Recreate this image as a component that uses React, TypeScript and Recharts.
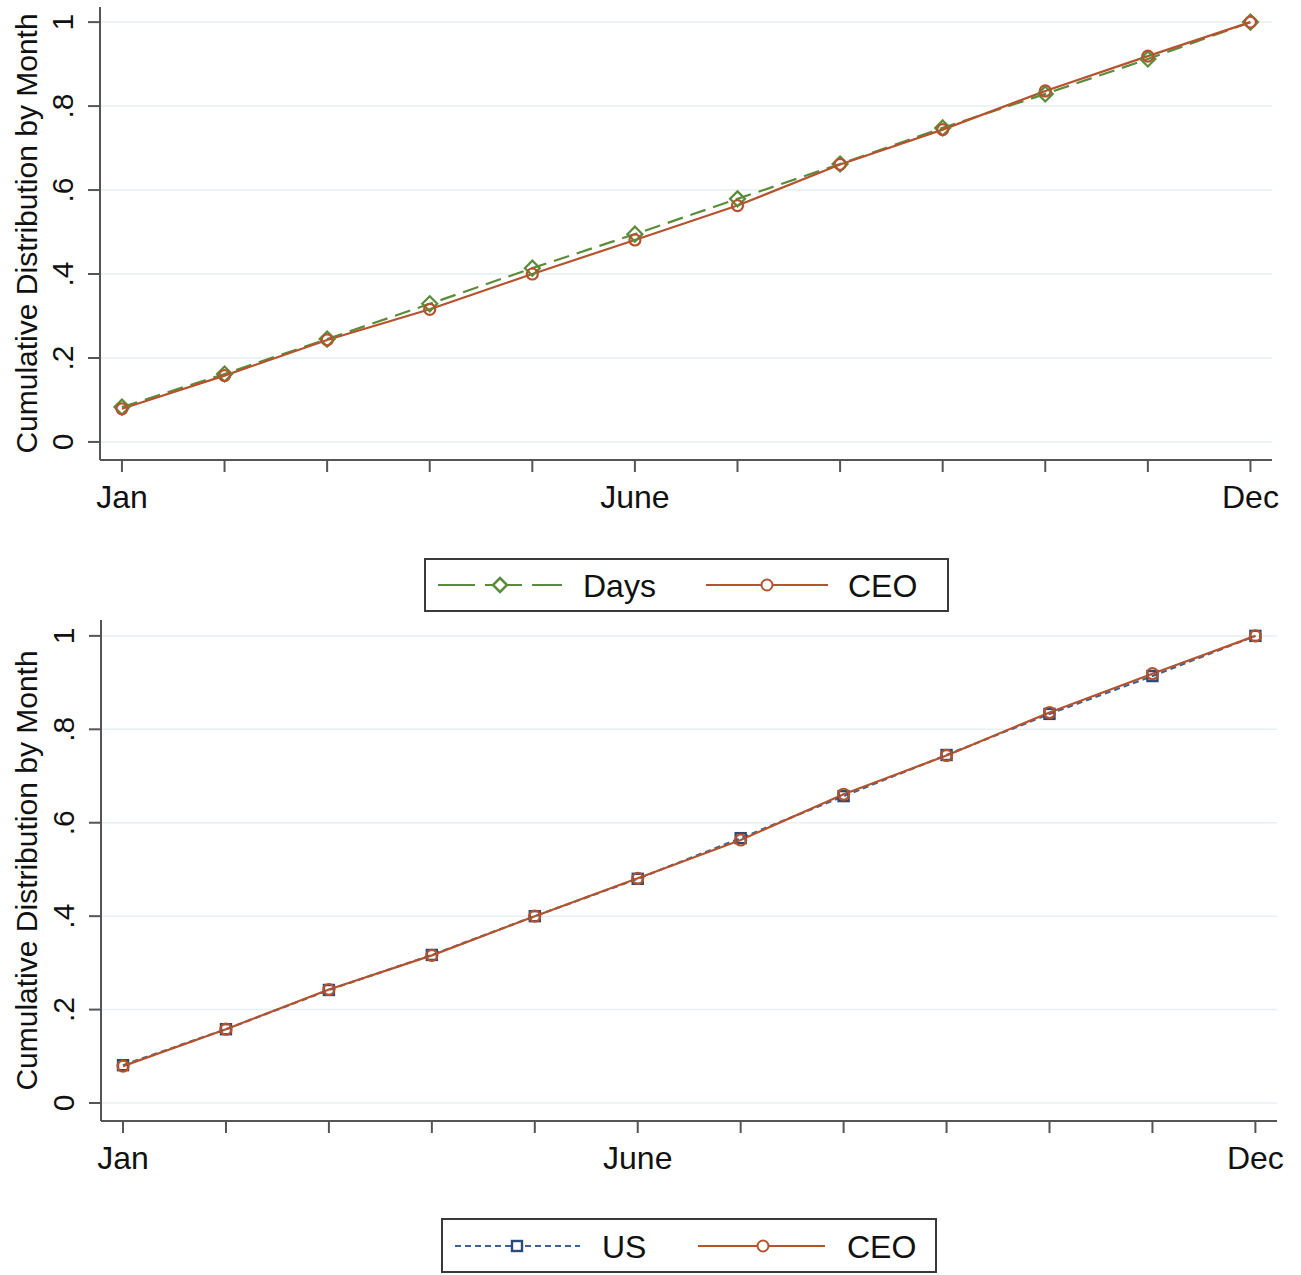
import React from 'react';
import { LineChart, Line, XAxis, YAxis, ReferenceLine, Legend } from 'recharts';

// month positions and the labels shown under the x axis
const monthIdx = [0, 1, 2, 3, 4, 5, 6, 7, 8, 9, 10, 11];
const monthLabels = ['Jan', '', '', '', '', 'June', '', '', '', '', '', 'Dec'];

// cumulative shares
const daysShare = [0.083, 0.162, 0.245, 0.329, 0.414, 0.495, 0.579, 0.662, 0.748, 0.829, 0.912, 1.0];
const ceoShare = [0.079, 0.158, 0.243, 0.316, 0.4, 0.481, 0.563, 0.661, 0.744, 0.836, 0.919, 1.0];
const usShare = [0.081, 0.158, 0.242, 0.317, 0.4, 0.48, 0.567, 0.657, 0.745, 0.833, 0.914, 1.0];

const yTicks = [0, 0.2, 0.4, 0.6, 0.8, 1];
const yTickLabels = ['0', '.2', '.4', '.6', '.8', '1'];

const FONT = '"Liberation Sans", Arial, sans-serif';
const AXIS = '#555';
const GREEN = '#5a8c3a';
const ORANGE = '#b5532e';
const BLUE = '#3d6491';
const GRID = '#e6eff1';

const topData = monthIdx.map((m, i) => ({ m, days: daysShare[i], ceo: ceoShare[i] }));
const bottomData = monthIdx.map((m, i) => ({ m, us: usShare[i], ceo: ceoShare[i] }));

const XTick = (props: any) => {
  const { x, y, payload } = props;
  const label = monthLabels[payload.value] || '';
  return (
    <text x={x} y={y} dy={36} textAnchor="middle" fontSize={32} fill="#111" fontFamily={FONT}>
      {label}
    </text>
  );
};

const YTick = (props: any) => {
  const { x, y, payload } = props;
  const i = yTicks.findIndex((t) => Math.abs(t - payload.value) < 1e-6);
  const bx = x - 15;
  return (
    <text x={bx} y={y} textAnchor="middle" transform={`rotate(-90, ${bx}, ${y})`} fontSize={30} fill="#111" fontFamily={FONT}>
      {i >= 0 ? yTickLabels[i] : ''}
    </text>
  );
};

const yTitle = (props: any) => {
  const vb = props.viewBox;
  const cx = vb.x + 37;
  const cy = vb.y + vb.height / 2;
  return (
    <text x={cx} y={cy} textAnchor="middle" transform={`rotate(-90, ${cx}, ${cy})`} fontSize={30} fill="#111" fontFamily={FONT}>
      Cumulative Distribution by Month
    </text>
  );
};

const Diamond = (props: any) => {
  const { cx, cy, stroke } = props;
  if (cx == null || cy == null) return <g />;
  const r = 7.5;
  return <path d={`M${cx},${cy - r}L${cx + r},${cy}L${cx},${cy + r}L${cx - r},${cy}Z`} fill="none" stroke={stroke} strokeWidth={2.2} />;
};

const Circle = (props: any) => {
  const { cx, cy, stroke } = props;
  if (cx == null || cy == null) return <g />;
  return <circle cx={cx} cy={cy} r={5.5} fill="none" stroke={stroke} strokeWidth={2.2} />;
};

const Square = (props: any) => {
  const { cx, cy, stroke } = props;
  if (cx == null || cy == null) return <g />;
  return <rect x={cx - 5} y={cy - 5} width={10} height={10} fill="none" stroke={stroke} strokeWidth={2.4} />;
};

const TopLegend = () => (
  <div style={{ width: 525, height: 54, boxSizing: 'border-box', border: '2px solid #3a3a3a', background: '#fff' }}>
    <svg width={521} height={50}>
      <line x1={12} y1={25} x2={136} y2={25} stroke={GREEN} strokeWidth={2} strokeDasharray="37 10" />
      <path d="M74,18L81,25L74,32L67,25Z" fill="#fff" stroke={GREEN} strokeWidth={2.5} />
      <text x={157} y={37} fontSize={32} fill="#111" fontFamily={FONT}>Days</text>
      <line x1={280} y1={25} x2={402} y2={25} stroke={ORANGE} strokeWidth={2} />
      <circle cx={341} cy={25} r={5.5} fill="#fff" stroke={ORANGE} strokeWidth={2} />
      <text x={422} y={37} fontSize={32} fill="#111" fontFamily={FONT}>CEO</text>
    </svg>
  </div>
);

const BottomLegend = () => (
  <div style={{ width: 496, height: 55, boxSizing: 'border-box', border: '2px solid #3a3a3a', background: '#fff' }}>
    <svg width={492} height={51}>
      <line x1={12} y1={26} x2={137} y2={26} stroke={BLUE} strokeWidth={2} strokeDasharray="6 4" />
      <rect x={69} y={21} width={10} height={10} fill="#fff" stroke="#2a4a7a" strokeWidth={2.4} />
      <text x={159} y={38} fontSize={32} fill="#111" fontFamily={FONT}>US</text>
      <line x1={255} y1={26} x2={382} y2={26} stroke={ORANGE} strokeWidth={2} />
      <circle cx={320} cy={26} r={5.5} fill="#fff" stroke={ORANGE} strokeWidth={2} />
      <text x={404} y={38} fontSize={32} fill="#111" fontFamily={FONT}>CEO</text>
    </svg>
  </div>
);

const gridLines = yTicks.map((t) => <ReferenceLine key={t} y={t} stroke={GRID} strokeWidth={1.5} />);

export default function App() {
  return (
    <div style={{ position: 'absolute', left: 0, top: 0, width: 1301, height: 1275, background: '#fff' }}>
      <div style={{ position: 'absolute', left: 0, top: 0 }}>
        <LineChart width={1301} height={612} data={topData} margin={{ top: 7, right: 29, left: 0, bottom: 92 }}>
          {gridLines}
          <XAxis
            dataKey="m"
            type="number"
            domain={[-0.214, 11.21]}
            allowDataOverflow
            ticks={monthIdx}
            tick={<XTick />}
            tickSize={12}
            tickMargin={0}
            height={60}
            stroke={AXIS}
            strokeWidth={2}
          />
          <YAxis
            type="number"
            domain={[-0.043, 1.036]}
            allowDataOverflow
            ticks={yTicks}
            tick={<YTick />}
            tickSize={12}
            tickMargin={0}
            width={100}
            stroke={AXIS}
            strokeWidth={2}
            label={yTitle}
          />
          <Legend
            layout="horizontal"
            verticalAlign="middle"
            align="center"
            content={() => <TopLegend />}
            wrapperStyle={{ top: 558, left: 424, width: 525, height: 54 }}
          />
          <Line dataKey="days" stroke={GREEN} strokeWidth={2.2} strokeDasharray="16 8" dot={<Diamond />} isAnimationActive={false} />
          <Line dataKey="ceo" stroke={ORANGE} strokeWidth={2.2} dot={<Circle />} isAnimationActive={false} />
        </LineChart>
      </div>
      <div style={{ position: 'absolute', left: 0, top: 612 }}>
        <LineChart width={1301} height={663} data={bottomData} margin={{ top: 8, right: 24, left: 0, bottom: 94 }}>
          {gridLines}
          <XAxis
            dataKey="m"
            type="number"
            domain={[-0.214, 11.21]}
            allowDataOverflow
            ticks={monthIdx}
            tick={<XTick />}
            tickSize={12}
            tickMargin={0}
            height={60}
            stroke={AXIS}
            strokeWidth={2}
          />
          <YAxis
            type="number"
            domain={[-0.0385, 1.034]}
            allowDataOverflow
            ticks={yTicks}
            tick={<YTick />}
            tickSize={12}
            tickMargin={0}
            width={101}
            stroke={AXIS}
            strokeWidth={2}
            label={yTitle}
          />
          <Legend
            layout="horizontal"
            verticalAlign="middle"
            align="center"
            content={() => <BottomLegend />}
            wrapperStyle={{ top: 606, left: 441, width: 496, height: 55 }}
          />
          <Line dataKey="us" stroke={BLUE} strokeWidth={2.2} strokeDasharray="6 4" dot={<Square stroke="#2a4a7a" />} isAnimationActive={false} />
          <Line dataKey="ceo" stroke={ORANGE} strokeWidth={2.2} dot={<Circle />} isAnimationActive={false} />
        </LineChart>
      </div>
    </div>
  );
}
